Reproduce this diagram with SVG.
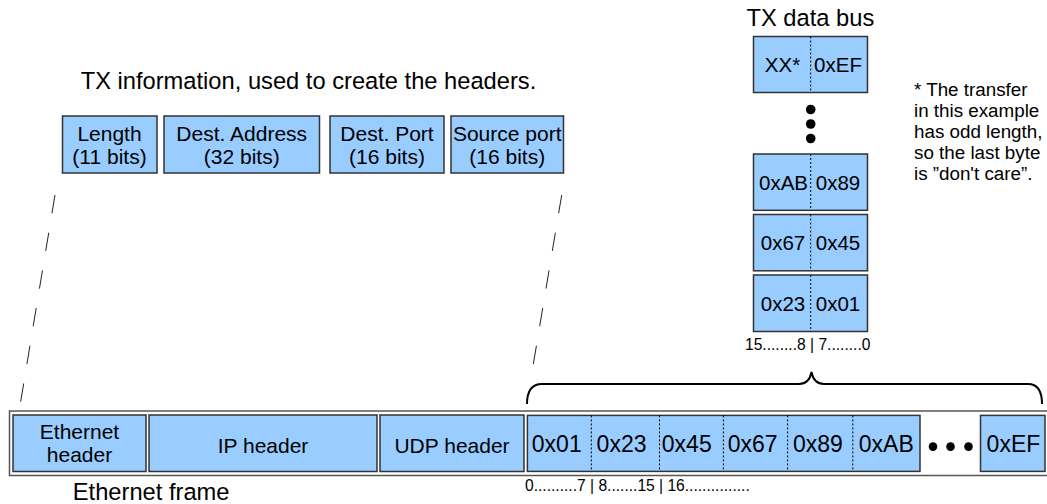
<svg xmlns="http://www.w3.org/2000/svg" width="1047" height="504" viewBox="0 0 1047 504">
  <style>
    text { font-family: "Liberation Sans", Arial, sans-serif; fill: #000; }
    .title { font-size: 23.7px; }
    .lbl { font-size: 21px; text-anchor: middle; }
    .bus { font-size: 20.5px; text-anchor: middle; }
    .byte { font-size: 23px; }
    .note { font-size: 18.8px; }
    .bits { font-size: 15.6px; }
    .box { fill: #99ccff; stroke: #333; stroke-width: 1.5; }
    .frame { fill: #fff; stroke: #555; stroke-width: 1.5; }
    .div { stroke: #000; stroke-width: 1; stroke-dasharray: 2 2; }
    .guide { stroke: #222; stroke-width: 1; stroke-dasharray: 18.5 19.7; fill: none; }
    .brace { stroke: #000; stroke-width: 2; fill: none; }
  </style>

  <!-- header information fields -->
  <text class="title" x="80.7" y="89.3">TX information, used to create the headers.</text>
  <g id="length">
    <rect class="box" x="62.5" y="116" width="94.5" height="57"/>
    <text class="lbl" x="109.5" y="141">Length</text>
    <text class="lbl" x="109.5" y="164">(11 bits)</text>
  </g>
  <g id="dest-address">
    <rect class="box" x="164" y="116" width="155.5" height="57"/>
    <text class="lbl" x="241.7" y="141">Dest. Address</text>
    <text class="lbl" x="241.7" y="164">(32 bits)</text>
  </g>
  <g id="dest-port">
    <rect class="box" x="330" y="116" width="114" height="57"/>
    <text class="lbl" x="387" y="141">Dest. Port</text>
    <text class="lbl" x="387" y="164">(16 bits)</text>
  </g>
  <g id="source-port">
    <rect class="box" x="451" y="116" width="112.5" height="57"/>
    <text class="lbl" x="507.2" y="141">Source port</text>
    <text class="lbl" x="507.2" y="164">(16 bits)</text>
  </g>

  <!-- TX data bus words -->
  <text class="title" x="746.5" y="26">TX data bus</text>
  <g id="bus-word-last">
    <rect class="box" x="753.5" y="36.5" width="114" height="56"/>
    <line class="div" x1="810.7" y1="36.5" x2="810.7" y2="92.5"/>
    <text class="bus" x="782.5" y="72.3">XX*</text>
    <text class="bus" x="838" y="72.3">0xEF</text>
  </g>
  <g id="bus-ellipsis">
    <circle cx="810.7" cy="109.5" r="4.8"/>
    <circle cx="810.7" cy="124" r="4.8"/>
    <circle cx="810.7" cy="138.5" r="4.8"/>
  </g>
  <g id="bus-word-2">
    <rect class="box" x="753.5" y="154" width="114" height="56.3"/>
    <line class="div" x1="810.7" y1="154" x2="810.7" y2="210.3"/>
    <text class="bus" x="783.5" y="189.5">0xAB</text>
    <text class="bus" x="838" y="189.5">0x89</text>
  </g>
  <g id="bus-word-1">
    <rect class="box" x="753.5" y="214.5" width="114" height="56.3"/>
    <line class="div" x1="810.7" y1="214.5" x2="810.7" y2="270.8"/>
    <text class="bus" x="783" y="250">0x67</text>
    <text class="bus" x="838" y="250">0x45</text>
  </g>
  <g id="bus-word-0">
    <rect class="box" x="753.5" y="275" width="114" height="56.5"/>
    <line class="div" x1="810.7" y1="275" x2="810.7" y2="331.5"/>
    <text class="bus" x="783" y="310.5">0x23</text>
    <text class="bus" x="838" y="310.5">0x01</text>
  </g>
  <text class="bits" x="745" y="350">15........8 | 7........0</text>

  <!-- footnote -->
  <g id="note">
    <text class="note" x="914" y="96">* The transfer</text>
    <text class="note" x="914" y="117">in this example</text>
    <text class="note" x="914" y="138">has odd length,</text>
    <text class="note" x="914" y="159">so the last byte</text>
    <text class="note" x="914" y="180">is ”don't care”.</text>
  </g>

  <!-- connectors: guide lines and brace -->
  <g id="connectors">
    <line class="guide" x1="55" y1="195" x2="20.6" y2="402"/>
    <line class="guide" x1="561.7" y1="195" x2="533" y2="366"/>
    <path class="brace" d="M527,404 C527,391 532,384 542,384 L799,384 C806,384 810,380 811.5,372 C813,380 817,384 824,384 L1028,384 C1037,384 1042,391 1042,404"/>
  </g>

  <!-- Ethernet frame -->
  <g id="ethernet-frame">
    <rect class="frame" x="9.5" y="411" width="1045" height="64.5"/>
  </g>
  <g id="eth-header">
    <rect class="box" x="13" y="415" width="133" height="56.5"/>
    <text class="lbl" x="79.5" y="439">Ethernet</text>
    <text class="lbl" x="79.5" y="461.7">header</text>
  </g>
  <g id="ip-header">
    <rect class="box" x="149" y="415" width="228" height="56.5"/>
    <text class="lbl" x="263" y="452.5">IP header</text>
  </g>
  <g id="udp-header">
    <rect class="box" x="380" y="415" width="144" height="56.5"/>
    <text class="lbl" x="452" y="452.5">UDP header</text>
  </g>
  <g id="payload">
    <rect class="box" x="527.4" y="415.4" width="392.6" height="56"/>
    <line class="div" x1="591.3" y1="415.4" x2="591.3" y2="471.4"/>
    <line class="div" x1="659.5" y1="415.4" x2="659.5" y2="471.4"/>
    <line class="div" x1="723.4" y1="415.4" x2="723.4" y2="471.4"/>
    <line class="div" x1="787.6" y1="415.4" x2="787.6" y2="471.4"/>
    <line class="div" x1="852.8" y1="415.4" x2="852.8" y2="471.4"/>
    <text class="byte" x="531.8" y="452.4">0x01</text>
    <text class="byte" x="596.6" y="452.4">0x23</text>
    <text class="byte" x="661.8" y="452.4">0x45</text>
    <text class="byte" x="727.7" y="452.4">0x67</text>
    <text class="byte" x="793" y="452.4">0x89</text>
    <text class="byte" x="858.8" y="452.4">0xAB</text>
  </g>
  <g id="payload-ellipsis">
    <circle cx="933" cy="446.6" r="4.3"/>
    <circle cx="950.5" cy="446.6" r="4.3"/>
    <circle cx="968.5" cy="446.6" r="4.3"/>
  </g>
  <g id="payload-last">
    <rect class="box" x="980.5" y="415.4" width="64.5" height="56"/>
    <text class="byte" x="986.6" y="452.4">0xEF</text>
  </g>
  <text class="bits" x="525" y="490.5">0..........7 | 8.......15 | 16...............</text>
  <text class="title" x="72.8" y="500">Ethernet frame</text>
</svg>
